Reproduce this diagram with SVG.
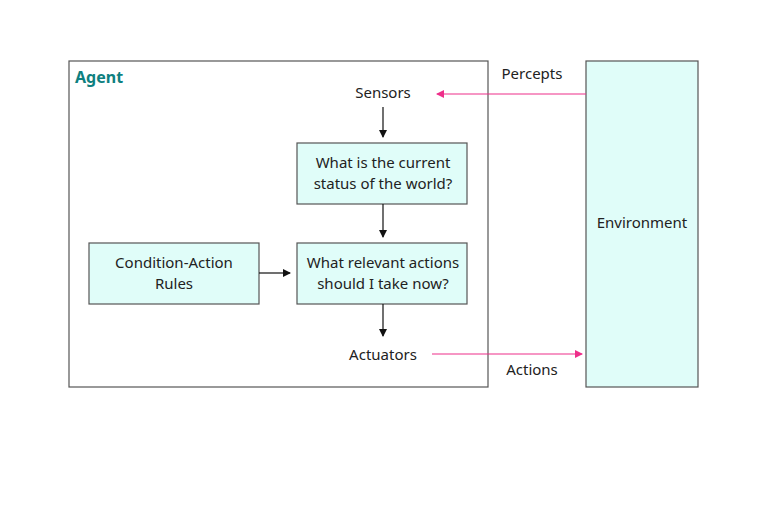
<svg xmlns="http://www.w3.org/2000/svg" width="768" height="526" viewBox="0 0 768 526">
<style>
text{font-family:"Noto Sans","Open Sans",sans-serif;font-size:15px;fill:#222;text-anchor:middle}
.box{fill:#e0fdf9;stroke:#555;stroke-width:1.2}
.k{stroke:#111;stroke-width:1.2;fill:none}
.p{stroke:#ee2e8a;stroke-width:1.2;fill:none}
</style>
<defs>
<marker id="ak" markerWidth="8" markerHeight="8" refX="7" refY="4" orient="auto" markerUnits="userSpaceOnUse"><path d="M0,0L8,4L0,8z" fill="#111"/></marker>
<marker id="ap" markerWidth="8" markerHeight="8" refX="7" refY="4" orient="auto" markerUnits="userSpaceOnUse"><path d="M0,0L8,4L0,8z" fill="#ee2e8a"/></marker>
</defs>
<rect width="768" height="526" fill="#fff"/>
<g id="agent"><rect x="69" y="61" width="419" height="326" fill="none" stroke="#555" stroke-width="1.2"/>
<text x="75" y="83" style="text-anchor:start;fill:#0e8080;font-weight:bold;font-size:16px">Agent</text></g>
<g id="sensors"><text x="383" y="98">Sensors</text></g>
<g id="status"><rect class="box" x="297" y="143" width="170" height="61"/><text x="383" y="168">What is the current</text><text x="383" y="189">status of the world?</text></g>
<g id="rules"><rect class="box" x="89" y="243" width="170" height="61"/><text x="174" y="268">Condition-Action</text><text x="174" y="289">Rules</text></g>
<g id="actionsq"><rect class="box" x="297" y="243" width="170" height="61"/><text x="383" y="268">What relevant actions</text><text x="383" y="289">should I take now?</text></g>
<g id="actuators"><text x="383" y="360">Actuators</text></g>
<g id="env"><rect class="box" x="586" y="61" width="112" height="326"/><text x="642" y="228">Environment</text></g>
<g id="connectors">
<path class="k" d="M383,107V137" marker-end="url(#ak)"/>
<path class="k" d="M383,204V237" marker-end="url(#ak)"/>
<path class="k" d="M259,273H290" marker-end="url(#ak)"/>
<path class="k" d="M383,304V336" marker-end="url(#ak)"/>
<path class="p" d="M586,94H437" marker-end="url(#ap)"/>
<path class="p" d="M432,354H582" marker-end="url(#ap)"/>
<text x="532" y="79">Percepts</text>
<text x="532" y="375">Actions</text>
</g>
</svg>
